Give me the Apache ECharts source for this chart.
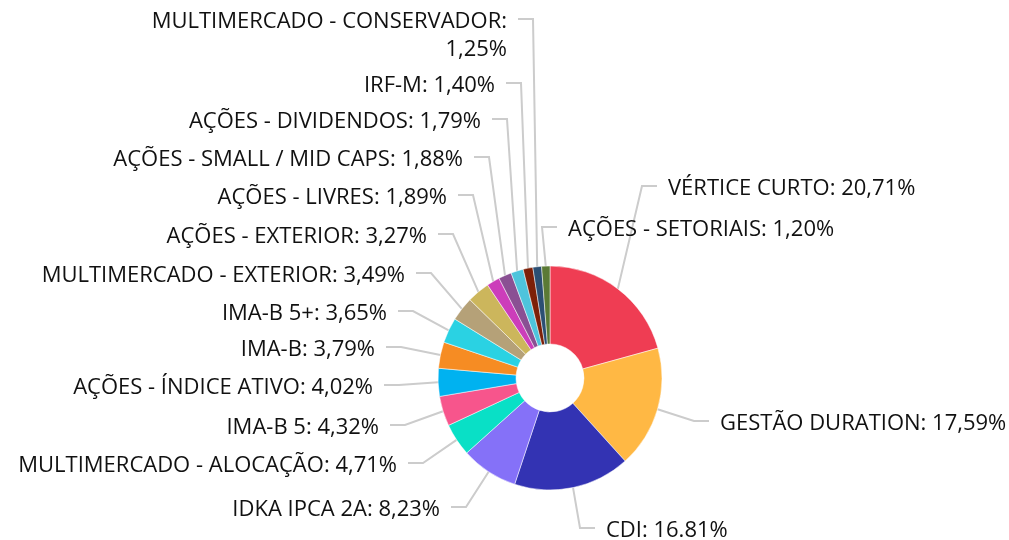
<!DOCTYPE html>
<html>
<head>
<meta charset="utf-8">
<script src="https://cdn.jsdelivr.net/npm/echarts@6/dist/echarts.min.js"></script>
<style>
  html, body { margin: 0; padding: 0; background: #fff; }
  #chart { width: 1009px; height: 540px; }
</style>
</head>
<body>
<div id="chart"></div>
<script>
const categories = [
  'VÉRTICE CURTO',
  'GESTÃO DURATION',
  'CDI',
  'IDKA IPCA 2A',
  'MULTIMERCADO - ALOCAÇÃO',
  'IMA-B 5',
  'AÇÕES - ÍNDICE ATIVO',
  'IMA-B',
  'IMA-B 5+',
  'MULTIMERCADO - EXTERIOR',
  'AÇÕES - EXTERIOR',
  'AÇÕES - LIVRES',
  'AÇÕES - SMALL / MID CAPS',
  'AÇÕES - DIVIDENDOS',
  'IRF-M',
  'MULTIMERCADO - CONSERVADOR',
  'AÇÕES - SETORIAIS',
];

const values = [20.71, 17.59, 16.81, 8.23, 4.71, 4.32, 4.02, 3.79, 3.65, 3.49, 3.27, 1.89, 1.88, 1.79, 1.40, 1.25, 1.20];

// value text as printed on the chart
const valueLabels = ['20,71%', '17,59%', '16.81%', '8,23%', '4,71%', '4,32%', '4,02%', '3,79%', '3,65%', '3,49%', '3,27%', '1,89%', '1,88%', '1,79%', '1,40%', '1,25%', '1,20%'];

// labels too long for one line
const wrappedNames = ['MULTIMERCADO - CONSERVADOR'];

const colors = [
  '#EF3D53', '#FFB844', '#3333B3', '#8571F8', '#09E0C6', '#F7558C',
  '#00B2F0', '#F68C23', '#2AD2E3', '#B5A178', '#CCB65C', '#CC3DBA',
  '#8A5093', '#4EC4DC', '#7D2008', '#2C4F73', '#5B7A35',
];

// label placement: text edge next to the connector, and first-line middle
const labelEdgeX = [668, 720, 606, 440, 397, 379, 373, 375, 387, 405, 427, 447, 463, 481, 495, 507, 568];
const labelY = [189, 424, 531, 510, 466, 428, 388, 350, 314, 276, 237, 198, 160, 122, 86, 22, 230];

const CX = 550;
const LINE_H = 28;

const chart = echarts.init(document.getElementById('chart'));

const seriesData = categories.map((name, i) => ({
  name: name,
  value: values[i],
  itemStyle: { color: colors[i] },
}));

const option = {
  animation: false,
  series: [
    {
      type: 'pie',
      center: [CX, 378],
      radius: [34, 112],
      startAngle: 90,
      clockwise: true,
      data: seriesData,
      itemStyle: {
        borderColor: '#fff',
        borderWidth: 0.5,
      },
      label: {
        show: true,
        fontFamily: 'Open Sans',
        fontSize: 22,
        color: '#111',
        lineHeight: LINE_H,
        formatter: (p) => {
          const sep = wrappedNames.includes(p.name) ? ':\n' : ': ';
          return p.name + sep + valueLabels[p.dataIndex];
        },
      },
      labelLine: {
        show: true,
        length: 20,
        length2: 14,
        lineStyle: { color: '#cccccc', width: 2 },
      },
      labelLayout: (params) => {
        const i = params.dataIndex;
        const left = labelEdgeX[i] < CX;
        const dir = left ? 1 : -1;
        const lineY = labelY[i] - 3;
        const endX = labelEdgeX[i] + dir * 11;
        const elbowX = endX + dir * 15;
        const start = params.labelLinePoints[0];
        return {
          x: labelEdgeX[i],
          y: labelY[i] - LINE_H / 2,
          align: left ? 'right' : 'left',
          verticalAlign: 'top',
          labelLinePoints: [start, [elbowX, lineY], [endX, lineY]],
        };
      },
    },
  ],
};

chart.setOption(option);
</script>
</body>
</html>
